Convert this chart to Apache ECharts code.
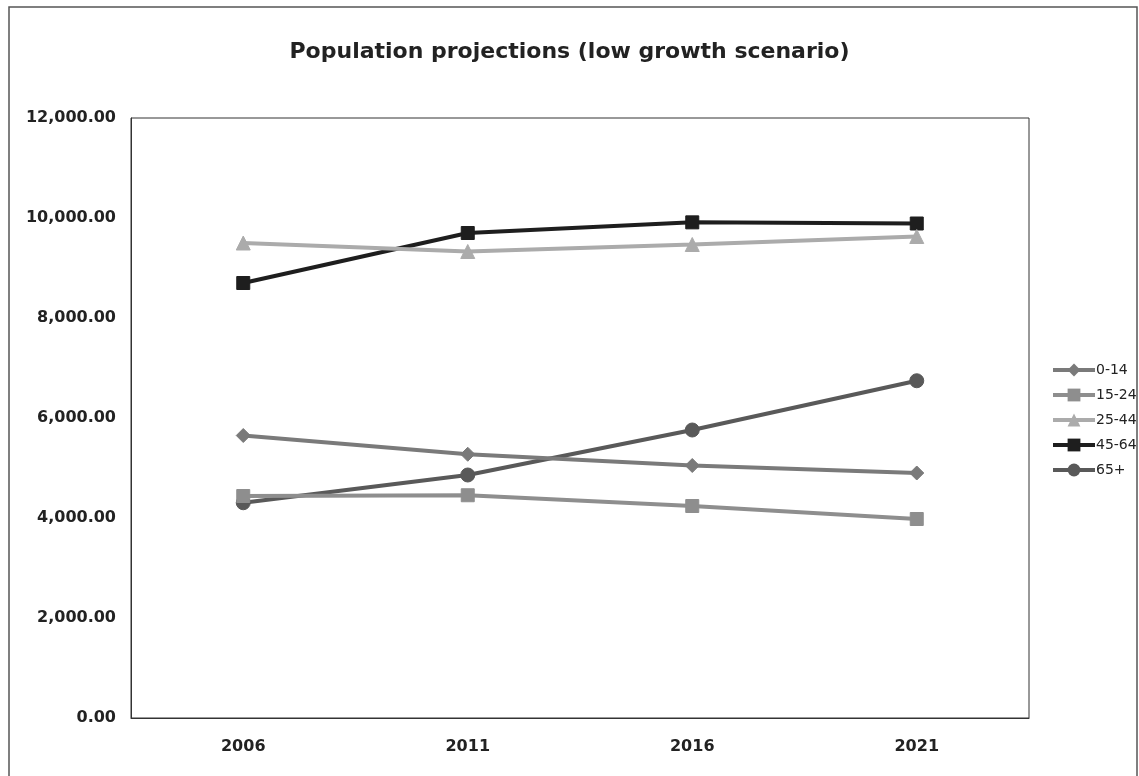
<!DOCTYPE html>
<html>
<head>
<meta charset="utf-8">
<script src="https://cdn.jsdelivr.net/npm/echarts@6/dist/echarts.min.js"></script>
<style>html,body{margin:0;padding:0;background:#fff;}#c{width:1139px;height:776px;}</style>
</head>
<body>
<div id="c"></div>
<script>
var categories = ['2006', '2011', '2016', '2021'];
var seriesNames = ['0-14', '15-24', '25-44', '45-64', '65+'];
var age0_14 = [5650, 5275, 5050, 4900];
var age15_24 = [4440, 4455, 4240, 3980];
var age25_44 = [9500, 9330, 9470, 9630];
var age45_64 = [8700, 9700, 9913, 9890];
var age65plus = [4305, 4860, 5760, 6745];
var yTicks = { min: 0, max: 12000, interval: 2000 };
var titleText = 'Population projections (low growth scenario)';

var colors = ['#7a7a7a', '#8e8e8e', '#ababab', '#1e1e1e', '#595959'];
var symbols = ['diamond', 'rect', 'triangle', 'rect', 'circle'];
var sizes = [14, 13, 14, 13, 14];
var dataSets = [age0_14, age15_24, age25_44, age45_64, age65plus];

var chart = echarts.init(document.getElementById('c'));
chart.setOption({
  backgroundColor: '#fff',
  animation: false,
  title: {
    text: titleText, left: 'center', top: 36,
    textStyle: { fontFamily: 'DejaVu Sans', fontSize: 22, fontWeight: 'bold', color: '#222' }
  },
  graphic: [{
    type: 'rect', shape: { x: 9, y: 7, width: 1128, height: 780 },
    style: { fill: 'none', stroke: '#555', lineWidth: 1.5 }, silent: true
  }],
  legend: {
    orient: 'vertical', left: 1046, top: 358, itemGap: 11,
    itemWidth: 42, itemHeight: 16,
    lineStyle: { width: 4 },
    data: seriesNames,
    textStyle: { fontFamily: 'DejaVu Sans', fontSize: 14, color: '#222', padding: [0, 0, 0, -4] }
  },
  grid: { left: 131, top: 118, right: 110, bottom: 58, show: true, borderColor: '#333', borderWidth: 1, backgroundColor: 'transparent' },
  xAxis: {
    type: 'category', data: categories, boundaryGap: true,
    axisLine: { lineStyle: { color: '#333' } },
    axisTick: { show: false },
    axisLabel: { fontFamily: 'DejaVu Sans', fontSize: 16, fontWeight: 'bold', color: '#222', margin: 21 }
  },
  yAxis: {
    type: 'value', min: yTicks.min, max: yTicks.max, interval: yTicks.interval,
    axisLine: { show: true, lineStyle: { color: '#333' } },
    axisTick: { show: false },
    splitLine: { show: false },
    axisLabel: {
      fontFamily: 'DejaVu Sans', fontSize: 16, fontWeight: 'bold', color: '#222', margin: 15,
      formatter: function (v) { return v.toLocaleString('en-US', { minimumFractionDigits: 2, maximumFractionDigits: 2 }); }
    }
  },
  series: seriesNames.map(function (n, i) {
    return {
      name: n, type: 'line', data: dataSets[i],
      symbol: symbols[i], symbolSize: sizes[i],
      lineStyle: { color: colors[i], width: 4 },
      itemStyle: { color: colors[i], borderColor: colors[i] },
      z: 10 - i
    };
  })
});
</script>
</body>
</html>
